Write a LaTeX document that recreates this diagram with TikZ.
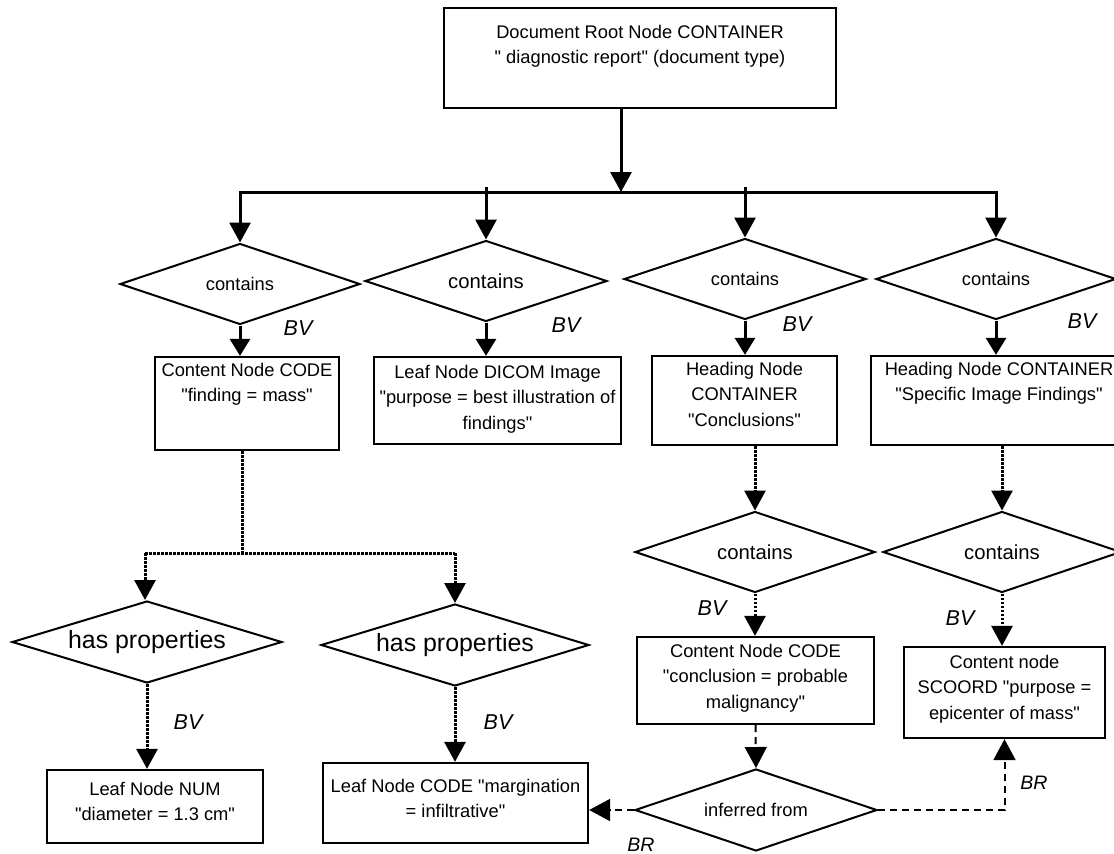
\documentclass[tikz,border=0pt]{standalone}
\usepackage{fontspec}
\setmainfont{Liberation Sans}
\usetikzlibrary{arrows.meta,shapes.geometric}
\newcommand\fsN{\fontsize{18.3}{25.5}\selectfont}
\newcommand\fsC{\fontsize{20.3}{24}\selectfont}
\newcommand\fsH{\fontsize{24.9}{28}\selectfont}
\newcommand\fsBV{\fontsize{21.5}{24}\selectfont\itshape}
\newcommand\fsBR{\fontsize{19.5}{24}\selectfont\itshape}
\newcommand\qq{\textquotedbl}
\begin{document}
\begin{tikzpicture}[x=1pt,y=-1pt,
  box/.style={draw, line width=2.3pt, inner sep=0pt},
  btxt/.style={anchor=north, align=center, inner sep=0pt, font=\fsN},
  dia/.style={draw, diamond, aspect=3, line width=2pt, inner sep=0pt, font=\fsN},
  bigtip/.style={-{Triangle[length=20pt,width=21pt]}},
  smalltip/.style={-{Triangle[length=17pt,width=20pt]}},
  solidline/.style={line width=3pt},
  dotline/.style={line width=3pt, dash pattern=on 2.5pt off 1.5pt},
  dashline/.style={line width=2pt, dash pattern=on 7pt off 5pt},
  dashtip/.style={-{Triangle[length=21pt,width=22pt]}},
  bv/.style={font=\fsBV, inner sep=0pt},
  br/.style={font=\fsBR, inner sep=0pt}
]
\useasboundingbox (0,0) rectangle (1114,854);
\fill[white] (0,0) rectangle (1114,854);

% root
\node[box, minimum width=392pt, minimum height=100pt,
  label={[btxt,yshift=-18pt]north:{Document Root Node CONTAINER\\\qq{} diagnostic report\qq{} (document type)}}]
  (root) at (640,58) {};

% bus
\coordinate (busmid) at (621,192);

% first row diamonds
\node[dia, minimum width=240pt, minimum height=81pt] (d1) at (240,284) {contains};
\node[dia, minimum width=242pt, minimum height=81pt, font=\fsC] (d2) at (486,281) {contains};
\node[dia, minimum width=242pt, minimum height=81pt] (d3) at (745,279) {contains};
\node[dia, minimum width=240pt, minimum height=81pt] (d4) at (996,279) {contains};

\draw[solidline, bigtip] (root.south -| busmid) -- (busmid);
\draw[solidline, line cap=rect] (d1.north |- busmid) -- (d4.north |- busmid);
\draw[solidline, bigtip] (d1.north |- busmid) -- (d1.north);
\draw[solidline, bigtip] ([yshift=5pt]d2.north |- busmid) -- (d2.north);
\draw[solidline, bigtip] ([yshift=5pt]d3.north |- busmid) -- (d3.north);
\draw[solidline, bigtip] (d4.north |- busmid) -- (d4.north);

% second row boxes
\node[box, minimum width=184pt, minimum height=93pt,
  label={[btxt,yshift=-7pt]north:{Content Node CODE\\\qq finding = mass\qq}}]
  (b1) at (247,403.5) {};
\node[box, minimum width=247pt, minimum height=87pt,
  label={[btxt,yshift=-9pt]north:{Leaf Node DICOM Image\\\qq purpose = best illustration of\\findings\qq}}]
  (b2) at (497.5,400.5) {};
\node[box, minimum width=185pt, minimum height=89pt,
  label={[btxt,yshift=-7pt]north:{Heading Node\\CONTAINER\\\qq Conclusions\qq}}]
  (b3) at (744.5,400.5) {};
\node[box, minimum width=256pt, minimum height=89pt,
  label={[btxt,yshift=-7pt]north:{Heading Node CONTAINER\\\qq Specific Image Findings\qq}}]
  (b4) at (999,400.5) {};

\draw[solidline, smalltip] (d1.south) -- (d1.south |- b1.north);
\draw[solidline, smalltip] (d2.south) -- (d2.south |- b2.north);
\draw[solidline, smalltip] (d3.south) -- (d3.south |- b3.north);
\draw[solidline, smalltip] (d4.south) -- (d4.south |- b4.north);

\node[bv] (bv1) at (298,328) {BV};
\node[bv] (bv2) at (566,325) {BV};
\node[bv] (bv3) at (797,324) {BV};
\node[bv] (bv4) at (1082,321) {BV};

% left dotted branch
\coordinate (split) at (242,553);
\coordinate (splitL) at (145,553);
\coordinate (splitR) at (455,553);
\node[dia, minimum width=270pt, minimum height=82pt, font=\fsH] (hp1) at (147,642) {has properties};
\node[dia, minimum width=268pt, minimum height=82pt, font=\fsH] (hp2) at (455,645) {has properties};
\draw[dotline] (b1.south -| split) -- (split);
\draw[dotline] (splitL) -- (splitR);
\draw[dotline, bigtip] (splitL) -- (hp1.north -| splitL);
\draw[dotline, bigtip] (splitR) -- (hp2.north -| splitR);

\node[box, minimum width=216pt, minimum height=73pt,
  label={[btxt,yshift=-13pt]north:{Leaf Node NUM\\\qq diameter = 1.3 cm\qq}}]
  (n1) at (155,806.5) {};
\node[box, minimum width=265pt, minimum height=80pt,
  label={[btxt,yshift=-17pt]north:{Leaf Node CODE \qq margination\\= infiltrative\qq}}]
  (n2) at (455.5,803) {};
\draw[dotline, bigtip] (hp1.south) -- (hp1.south |- n1.north);
\draw[dotline, bigtip] (hp2.south) -- (hp2.south |- n2.north);
\node[bv] (bv5) at (188,722) {BV};
\node[bv] (bv6) at (498,722) {BV};

% right dotted branches
\node[dia, minimum width=240pt, minimum height=81pt, font=\fsC] (c3) at (755,552) {contains};
\node[dia, minimum width=238pt, minimum height=81pt, font=\fsC] (c4) at (1002,552) {contains};
\draw[dotline, bigtip] (c3.north |- b3.south) -- (c3.north);
\draw[dotline, bigtip] (c4.north |- b4.south) -- (c4.north);

\node[box, minimum width=237pt, minimum height=87pt,
  label={[btxt,yshift=-8pt]north:{Content Node CODE\\\qq conclusion = probable\\malignancy\qq}}]
  (b5) at (755.5,680.5) {};
\node[box, minimum width=201pt, minimum height=91pt,
  label={[btxt,yshift=-9pt]north:{Content node\\SCOORD \qq purpose =\\epicenter of mass\qq}}]
  (b6) at (1004.5,692.5) {};
\draw[dotline, bigtip] (c3.south) -- (c3.south |- b5.north);
\draw[dotline, bigtip] (c4.south) -- (c4.south |- b6.north);
\node[bv] (bv7) at (712,608) {BV};
\node[bv] (bv8) at (960,618) {BV};

% inferred from
\node[dia, minimum width=242pt, minimum height=82pt] (inf) at (756,810) {inferred from};
\draw[dashline, dashtip] (b5.south) -- (inf.north);
\draw[dashline, dashtip] (inf.west) -- (inf.west -| n2.east);
\draw[dashline, dashtip] (inf.east) -| (b6.south);
\node[br] (br1) at (641,845) {BR};
\node[br] (br2) at (1034,783) {BR};
\end{tikzpicture}
\end{document}
